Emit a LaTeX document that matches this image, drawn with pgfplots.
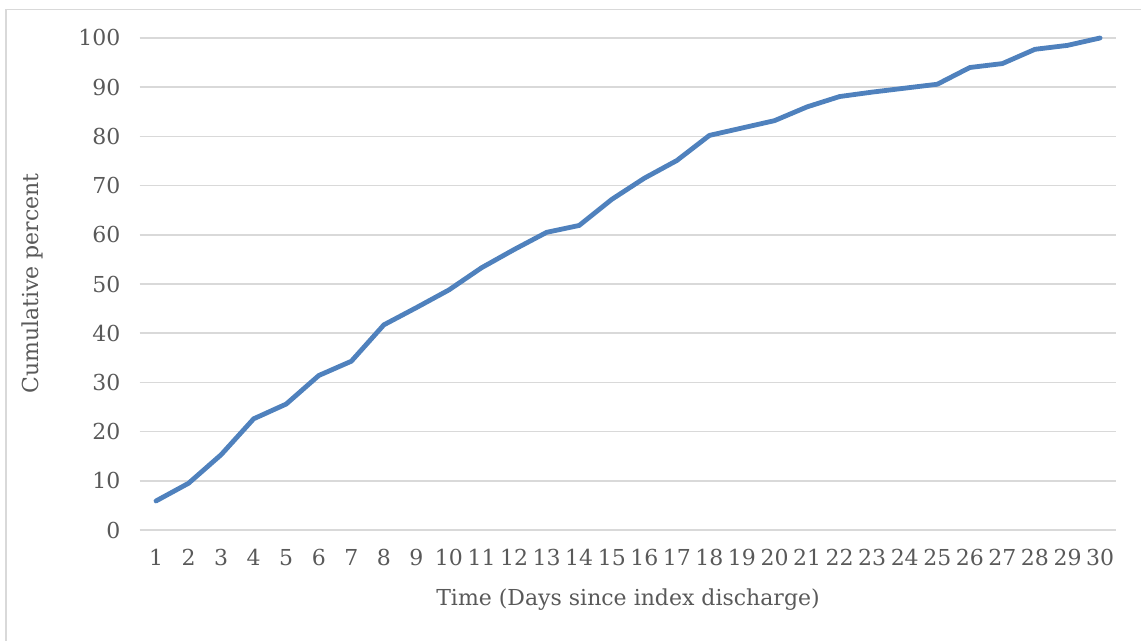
\documentclass[border=0pt]{standalone}
\usepackage{pgfplots}
\pgfplotsset{compat=1.18}
\usepackage{fontspec}
\setmainfont{DejaVu Serif}
\definecolor{linecol}{HTML}{4F81BD}
\definecolor{gridcol}{HTML}{D9D9D9}
\definecolor{textcol}{HTML}{595959}
\begin{document}
\begin{tikzpicture}
\useasboundingbox (0,0) rectangle (855.75pt,480.75pt);
\draw[gridcol, line width=1.1pt] (4.5pt,0) -- (4.5pt,473.6pt) -- (855.75pt,473.6pt);
\begin{axis}[
  at={(104.8pt,83.25pt)}, anchor=south west,
  scale only axis, width=732.45pt, height=369pt,
  xmin=0.5, xmax=30.5, ymin=0, ymax=100,
  xtick={1,...,30}, ytick={0,10,...,100},
  axis line style={draw=none},
  major tick length=0pt,
  ymajorgrids,
  grid style={gridcol, line width=1.1pt},
  /pgf/number format/assume math mode=true,
  tick label style={font=\fontsize{16.5}{19}\selectfont, text=textcol},
  yticklabel style={xshift=-11pt},
  xticklabel style={yshift=-11pt},
  clip=false,
]
\addplot[color=linecol, line width=3.6pt, line join=round, line cap=round, mark=none] coordinates {
(1,5.9) (2,9.5) (3,15.3) (4,22.6) (5,25.6) (6,31.4) (7,34.3) (8,41.7) (9,45.2) (10,48.8)
(11,53.3) (12,57.0) (13,60.5) (14,61.9) (15,67.2) (16,71.5) (17,75.1) (18,80.2) (19,81.7) (20,83.2)
(21,86.0) (22,88.1) (23,89.0) (24,89.8) (25,90.6) (26,94.0) (27,94.8) (28,97.7) (29,98.5) (30,100)
};
\end{axis}
\node[rotate=90, text=textcol, font=\fontsize{16.5}{19}\selectfont] at (24pt,268.1pt) {Cumulative percent};
\node[text=textcol, font=\fontsize{16.5}{19}\selectfont] at (471pt,30.75pt) {Time (Days since index discharge)};
\end{tikzpicture}
\end{document}
